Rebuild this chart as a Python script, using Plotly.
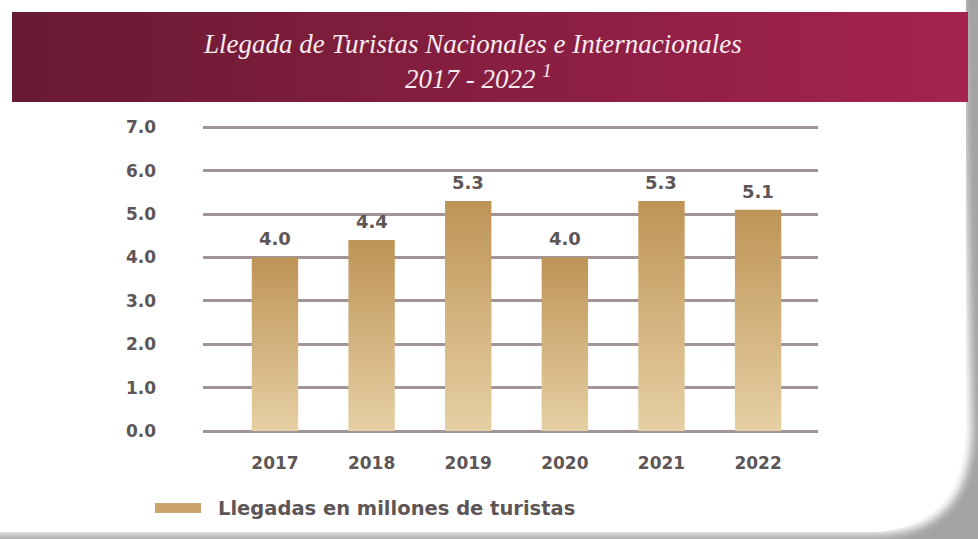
import base64
import plotly.graph_objects as go

# Llegada de turistas (millones), 2017-2022
years = ["2017", "2018", "2019", "2020", "2021", "2022"]
arrivals = [4.0, 4.4, 5.3, 4.0, 5.3, 5.1]
y_ticks = [0, 1, 2, 3, 4, 5, 6, 7]
y_ticktext = [f"{t:.1f}" for t in y_ticks]

W, H = 978, 539
BAR_W = 0.48
TEXT = "#5e5656"
GRID = "#a29595"
FONT = "DejaVu Sans"

# Background card: header band with gradient and a soft shadow on the right edge
svg = f"""<svg xmlns='http://www.w3.org/2000/svg' width='{W}' height='{H}' viewBox='0 0 {W} {H}'>
<defs>
<linearGradient id='hd' x1='0' x2='1' y1='0' y2='0'>
<stop offset='0' stop-color='#681a32'/><stop offset='1' stop-color='#a5234f'/>
</linearGradient>
<filter id='bl' x='-10%' y='-10%' width='120%' height='120%'><feGaussianBlur stdDeviation='4'/></filter>
</defs>
<rect width='{W}' height='{H}' fill='#ffffff'/>
<path d='M 962 -10 L 990 -10 L 990 560 L -10 560 L -10 534 L 880 534 Q 970 532 972 430 Z' fill='#a3a3a3' filter='url(#bl)'/>
<path d='M -10 -10 L 966 -10 L 966 420 Q 964 528 874 532 L -10 532 Z' fill='#ffffff'/>
<rect x='12' y='12' width='956' height='90' fill='url(#hd)'/>
</svg>"""
bg_src = "data:image/svg+xml;base64," + base64.b64encode(svg.encode()).decode()

fig = go.Figure()

# Bars as filled polygons so each one gets a vertical gradient
for i, v in enumerate(arrivals):
    x0, x1 = i - BAR_W / 2, i + BAR_W / 2
    fig.add_trace(go.Scatter(
        x=[x0, x1, x1, x0, x0], y=[0, 0, v, v, 0],
        mode="none", fill="toself",
        fillgradient=dict(type="vertical",
                          colorscale=[[0, "#e6d0a4"], [1, "#be9456"]]),
        showlegend=False, hoverinfo="skip",
    ))

def px(x):
    return x / W

def py(y):
    return 1 - y / H

# Value labels sitting a little above each bar
value_labels = [
    dict(text=f"{v:.1f}", x=i, y=v, xref="x", yref="y",
         showarrow=False, xanchor="center", yanchor="bottom", yshift=6,
         font=dict(family=FONT, size=18, color=TEXT, weight="bold"))
    for i, v in enumerate(arrivals)
]

fig.update_layout(
    width=W, height=H,
    margin=dict(l=0, r=0, t=0, b=0),
    paper_bgcolor="white", plot_bgcolor="rgba(0,0,0,0)",
    showlegend=False,
    images=[dict(source=bg_src, xref="paper", yref="paper", x=0, y=1,
                 sizex=1, sizey=1, sizing="stretch", xanchor="left",
                 yanchor="top", layer="below")],
    xaxis=dict(
        domain=[px(203), px(818)],
        range=[-0.745, 5.62],
        tickvals=list(range(len(years))), ticktext=years,
        showgrid=False, zeroline=False, showline=False,
        ticks="", ticklabelstandoff=20, automargin=False,
        tickfont=dict(family=FONT, size=17, color=TEXT, weight="bold"),
        fixedrange=True,
    ),
    yaxis=dict(
        domain=[py(431), py(126)],
        range=[0, 7.03],
        tickvals=y_ticks, ticktext=y_ticktext,
        showgrid=True, gridcolor=GRID, gridwidth=2.5,
        zeroline=True, zerolinecolor=GRID, zerolinewidth=2.5,
        showline=False, ticks="", ticklabelstandoff=46, automargin=False,
        tickfont=dict(family=FONT, size=17, color=TEXT, weight="bold"),
        fixedrange=True,
    ),
    shapes=[dict(type="rect", xref="paper", yref="paper",
                 x0=px(155), x1=px(201), y0=py(513), y1=py(503),
                 fillcolor="#caa46c", line=dict(width=0))],
    annotations=[
        dict(text="<i>Llegada de Turistas Nacionales e Internacionales</i>",
             xref="paper", yref="paper", x=px(472), y=py(44),
             showarrow=False, xanchor="center", yanchor="middle",
             font=dict(family="Liberation Serif", size=27, color="#f6ecef")),
        dict(text="<i>2017 - 2022 <sup>1</sup></i>",
             xref="paper", yref="paper", x=px(478), y=py(77),
             showarrow=False, xanchor="center", yanchor="middle",
             font=dict(family="Liberation Serif", size=27, color="#f6ecef")),
        dict(text="Llegadas en millones de turistas",
             xref="paper", yref="paper", x=px(216), y=py(508),
             showarrow=False, xanchor="left", yanchor="middle",
             font=dict(family=FONT, size=19.5, color=TEXT, weight="bold")),
    ] + value_labels,
)

fig.write_html("out.html")
